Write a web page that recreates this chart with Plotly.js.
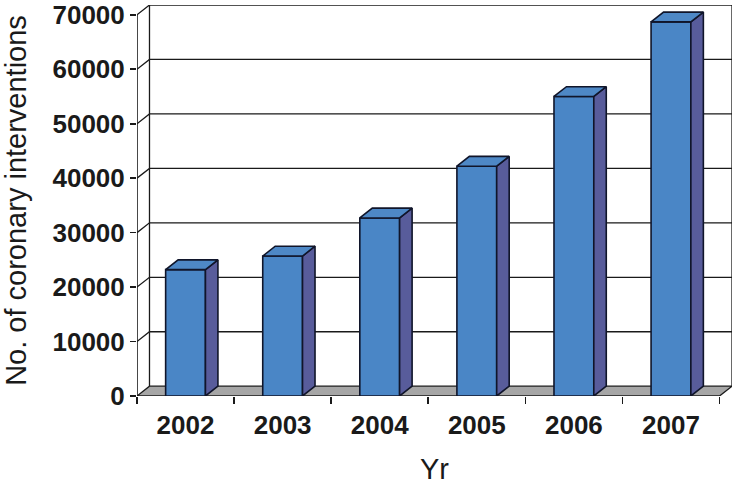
<!DOCTYPE html>
<html>
<head>
<meta charset="utf-8">
<script src="https://cdn.plot.ly/plotly-3.0.1.min.js"></script>
<style>html,body{margin:0;padding:0;background:#fff;}#chart{width:732px;height:485px;}</style>
</head>
<body>
<div id="chart"></div>
<script>
// ---- data ----
const years = ['2002', '2003', '2004', '2005', '2006', '2007'];
const counts = [23200, 25700, 32700, 42200, 55000, 68700];
const yTicks = [0, 10000, 20000, 30000, 40000, 50000, 60000, 70000];

// ---- 3D look parameters (in axis units) ----
const W = 0.41;      // bar front width (category units)
const DX = 0.1286;   // depth offset in x (category units)
const DY = 1800;     // depth offset in y (value units)
const YMAX = 70000;

const idx = years.map((_, i) => i);
const outline = '#10152A';
const font = '"Liberation Sans", Arial, sans-serif';

// back wall gridlines
const gx = [], gy = [];
yTicks.filter(v => v > 0).forEach(v => {
  gx.push(-0.5, -0.5 + DX, years.length - 0.5 + DX, null);
  gy.push(v, v + DY, v + DY, null);
});
gx.push(-0.5 + DX, -0.5 + DX, null, years.length - 0.5 + DX, years.length - 0.5 + DX);
gy.push(DY, YMAX + DY, null, DY, YMAX + DY);

// floor
const fx = [-0.5, years.length - 0.5, years.length - 0.5 + DX, -0.5 + DX, -0.5];
const fy = [0, 0, DY, DY, 0];

// bar faces
const frX = [], frY = [], sdX = [], sdY = [], tpX = [], tpY = [];
idx.forEach(i => {
  const v = counts[i], x0 = i - W / 2, x1 = i + W / 2;
  frX.push(x0, x1, x1, x0, x0, null); frY.push(0, 0, v, v, 0, null);
  sdX.push(x1, x1 + DX, x1 + DX, x1, x1, null); sdY.push(0, DY, v + DY, v, 0, null);
  tpX.push(x0, x1, x1 + DX, x0 + DX, x0, null); tpY.push(v, v, v + DY, v + DY, v, null);
});

const traces = [
  {x: gx, y: gy, mode: 'lines', line: {color: '#1a1a1a', width: 1.3}, hoverinfo: 'skip'},
  {x: fx, y: fy, mode: 'lines', fill: 'toself', fillcolor: '#A6A6A6', line: {color: '#1a1a1a', width: 1.3}, hoverinfo: 'skip'},
  {x: [-0.5, -0.5], y: [0, YMAX], mode: 'lines', line: {color: '#1a1a1a', width: 1.6}, hoverinfo: 'skip'},
  {x: frX, y: frY, mode: 'lines', fill: 'toself', fillcolor: '#4A86C6', line: {color: outline, width: 1.6}, hoverinfo: 'skip'},
  {x: sdX, y: sdY, mode: 'lines', fill: 'toself', fillcolor: '#585C9B', line: {color: outline, width: 1.6}, hoverinfo: 'skip'},
  {x: tpX, y: tpY, mode: 'lines', fill: 'toself', fillcolor: '#4E88C6', line: {color: outline, width: 1.6}, hoverinfo: 'skip'}
];

const layout = {
  width: 732, height: 485,
  margin: {l: 137, r: 0, t: 5, b: 89},
  paper_bgcolor: '#fff', plot_bgcolor: '#fff',
  showlegend: false,
  font: {family: font, color: '#1a1a1a'},
  xaxis: {
    type: 'linear',
    range: [-0.5, years.length - 0.5 + DX],
    tickmode: 'array', tickvals: idx, ticktext: years,
    ticks: '', showgrid: false, zeroline: false, showline: false,
    ticklabelstandoff: 11,
    tickfont: {family: font, size: 26, color: '#1a1a1a', weight: 'bold'},
    minor: {tickmode: 'array', tickvals: idx.concat([years.length]).map(i => i - 0.5),
            ticks: 'outside', ticklen: 7, tickwidth: 1.6, tickcolor: '#1a1a1a', showgrid: false},
    title: {text: 'Yr', font: {family: font, size: 29, color: '#1a1a1a'}, standoff: 22},
    fixedrange: true
  },
  yaxis: {
    range: [0, YMAX + DY],
    tickmode: 'array', tickvals: yTicks, ticktext: yTicks.map(String),
    ticks: 'outside', ticklen: 6, tickwidth: 1.6, tickcolor: '#1a1a1a',
    ticklabeloverflow: 'allow',
    showgrid: false, zeroline: false, showline: false,
    tickfont: {family: font, size: 26, color: '#1a1a1a', weight: 'bold'},
    title: {text: 'No. of coronary interventions', font: {family: font, size: 29, color: '#1a1a1a'}, standoff: 26},
    fixedrange: true
  }
};

Plotly.newPlot('chart', traces, layout, {staticPlot: true, displayModeBar: false});
</script>
</body>
</html>
